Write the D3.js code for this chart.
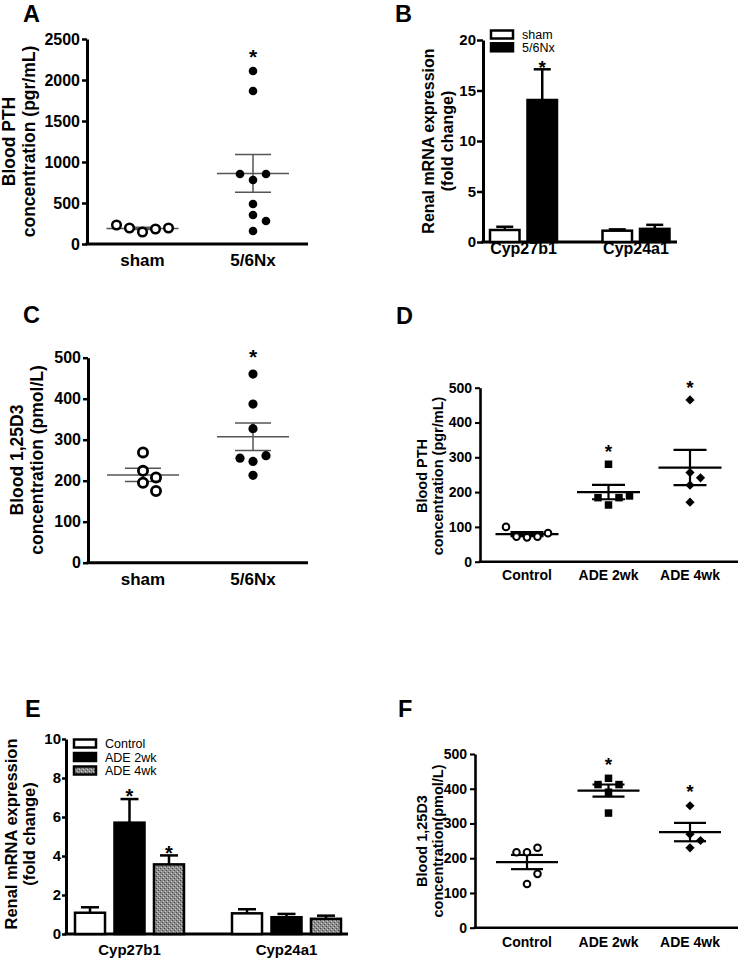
<!DOCTYPE html>
<meta charset="utf-8">
<script src="https://d3js.org/d3.v7.min.js"></script>
<style>
  body { margin: 0; background: #fff; }
  text { font-family: Arial, "Liberation Sans", sans-serif; fill: #000; }
</style>
<div id="figure"></div>
<script>

// ---------- data ----------

// A: blood PTH (pgr/mL), sham vs 5/6 nephrectomy
const nxGroups = ["sham", "5/6Nx"];
const pthSham = [146, 183, 195, 195, 232];
const pthNx = [2110, 1866, 780, 854, 854, 488, 354, 281, 159];
const pthNxTicks = [0, 500, 1000, 1500, 2000, 2500];
const pthNxStars = [false, true];

// B: renal mRNA expression (fold change), sham vs 5/6Nx
const genes = ["Cyp27b1", "Cyp24a1"];
const mrnaShamMean = [1.19, 1.12];
const mrnaShamSem = [0.32, 0.13];
const mrnaNxMean = [14.06, 1.3];
const mrnaNxSem = [3.04, 0.4];
const mrnaNxStars = [true, false];
const mrnaNxTicks = [0, 5, 10, 15, 20];

// C: blood 1,25D3 (pmol/L), sham vs 5/6Nx
const vdSham = [269, 224, 208, 195, 175];
const vdNx = [460, 387, 327, 247, 261, 255, 213];
const vdNxTicks = [0, 100, 200, 300, 400, 500];
const vdNxStars = [false, true];

// D: blood PTH (pgr/mL), adenine diet
const adeGroups = ["Control", "ADE 2wk", "ADE 4wk"];
const pthControl = [70, 72, 72, 82, 100];
const pthAde2 = [163, 184, 184, 189, 280];
const pthAde4 = [465, 256, 241, 220, 171];
const pthAdeTicks = [0, 100, 200, 300, 400, 500];
const pthAdeStars = [false, true, true];

// E: renal mRNA expression (fold change), adenine diet
const mrnaControlMean = [1.09, 1.06];
const mrnaControlSem = [0.28, 0.21];
const mrnaAde2Mean = [5.71, 0.86];
const mrnaAde2Sem = [1.21, 0.17];
const mrnaAde4Mean = [3.57, 0.78];
const mrnaAde4Sem = [0.46, 0.16];
const mrnaAde2Stars = [true, false];
const mrnaAde4Stars = [true, false];
const mrnaAdeTicks = [0, 2, 4, 6, 8, 10];

// F: blood 1,25D3 (pmol/L), adenine diet
const vdControl = [217, 230, 217, 126, 155];
const vdAde2 = [430, 412, 412, 390, 330];
const vdAde4 = [351, 269, 251, 230];
const vdAdeTicks = [0, 100, 200, 300, 400, 500];
const vdAdeStars = [false, true, true];

// ---------- drawing ----------

const svg = d3.select("#figure")
  .append("svg")
  .attr("width", 739)
  .attr("height", 960);

svg.append("rect").attr("width", 739).attr("height", 960).attr("fill", "#fff");

// speckled grey fill used for the ADE 4wk bars
const pat = svg.append("defs").append("pattern")
  .attr("id", "speckle")
  .attr("patternUnits", "userSpaceOnUse")
  .attr("width", 4).attr("height", 4);
pat.append("rect").attr("width", 4).attr("height", 4).attr("fill", "#8e8e8e");
pat.append("rect").attr("x", 0).attr("y", 0).attr("width", 1).attr("height", 1).attr("fill", "#4a4a4a");
pat.append("rect").attr("x", 2).attr("y", 2).attr("width", 1).attr("height", 1).attr("fill", "#4a4a4a");
pat.append("rect").attr("x", 1).attr("y", 3).attr("width", 1).attr("height", 1).attr("fill", "#c8c8c8");
pat.append("rect").attr("x", 3).attr("y", 1).attr("width", 1).attr("height", 1).attr("fill", "#c8c8c8");

function panelLetter(t, x, y) {
  svg.append("text")
    .attr("x", x).attr("y", y)
    .attr("font-size", 23.5).attr("font-weight", "bold")
    .text(t);
}

function yTitle(lines, xs, cy, size) {
  lines.forEach((t, i) => {
    svg.append("text")
      .attr("transform", `translate(${xs[i]},${cy}) rotate(-90)`)
      .attr("text-anchor", "middle")
      .attr("font-size", size)
      .attr("font-weight", "bold")
      .text(t);
  });
}

function drawAxes(p, y) {
  const ax = svg.append("g")
    .attr("transform", `translate(${p.left},0)`)
    .call(d3.axisLeft(y)
      .tickValues(p.ticks)
      .tickFormat(d3.format("d"))
      .tickSize(p.tickLen)
      .tickSizeOuter(0)
      .tickPadding(p.tickPad));
  ax.attr("font-family", null).attr("font-size", null);
  ax.select(".domain").attr("stroke", "#000").attr("stroke-width", p.axisW);
  ax.selectAll(".tick line").attr("stroke", "#000").attr("stroke-width", p.axisW - 0.5);
  ax.selectAll(".tick text")
    .attr("font-size", p.tickFont)
    .attr("font-weight", "bold")
    .attr("fill", "#000");

  svg.append("line")
    .attr("x1", p.left - p.axisW / 2).attr("x2", p.right)
    .attr("y1", y(0)).attr("y2", y(0))
    .attr("stroke", "#000").attr("stroke-width", p.axisW);
}

// greedy horizontal dodge so that points with close values sit side by side
function dodge(values, y, step, minDy) {
  const placed = [];
  return values.map(v => {
    const py = y(v);
    let off = 0;
    for (let i = 0; i < 60; i++) {
      off = i === 0 ? 0 : (i % 2 ? 1 : -1) * Math.ceil(i / 2) * step / 2;
      const hit = placed.some(q => Math.abs(q.off - off) < step - 0.01 && Math.abs(q.y - py) < minDy);
      if (!hit) break;
    }
    placed.push({ off: off, y: py });
    return off;
  });
}

function drawMarker(shape, cx, cy, m) {
  if (shape === "open") {
    svg.append("circle").attr("cx", cx).attr("cy", cy).attr("r", m.r)
      .attr("fill", "#fff").attr("stroke", "#000").attr("stroke-width", m.sw);
  } else if (shape === "dot") {
    svg.append("circle").attr("cx", cx).attr("cy", cy).attr("r", m.r).attr("fill", "#000");
  } else if (shape === "square") {
    svg.append("path")
      .attr("d", d3.symbol().type(d3.symbolSquare).size(m.sq * m.sq)())
      .attr("transform", `translate(${cx},${cy})`)
      .attr("fill", "#000");
  } else if (shape === "diamond") {
    svg.append("path")
      .attr("d", d3.symbol().type(d3.symbolSquare).size(m.dm * m.dm)())
      .attr("transform", `translate(${cx},${cy}) rotate(45)`)
      .attr("fill", "#000");
  }
}

function star(cx, cy, size) {
  svg.append("text")
    .attr("x", cx).attr("y", cy + 0.56 * size)
    .attr("text-anchor", "middle")
    .attr("font-size", size).attr("font-weight", "bold")
    .text("*");
}

function dotPanel(p) {
  const y = d3.scaleLinear().domain([0, d3.max(p.ticks)]).range([p.bottom, p.top]);
  const x = d3.scalePoint().domain(p.groups).range(p.centers);
  drawAxes(p, y);

  p.groups.forEach((gname, i) => {
    const vals = p.series[i];
    const cx = x(gname);
    const offs = dodge(vals, y, p.step, p.minDy);

    const mean = d3.mean(vals);
    const sem = d3.deviation(vals) / Math.sqrt(vals.length);

    const ln = (x1, x2, y1, y2) => svg.append("line")
      .attr("x1", x1).attr("x2", x2).attr("y1", y1).attr("y2", y2)
      .attr("stroke", p.lineColor).attr("stroke-width", p.lineW);
    ln(cx - p.meanW / 2, cx + p.meanW / 2, y(mean), y(mean));
    ln(cx - p.capW / 2, cx + p.capW / 2, y(mean + sem), y(mean + sem));
    ln(cx - p.capW / 2, cx + p.capW / 2, y(mean - sem), y(mean - sem));
    ln(cx, cx, y(mean + sem), y(mean - sem));

    vals.forEach((v, j) => drawMarker(p.shapes[i], cx + offs[j], y(v), p.marker));

    if (p.stars[i]) star(cx, y(d3.max(vals)) - p.starGap, p.starFont);

    svg.append("text")
      .attr("x", cx).attr("y", p.labelY)
      .attr("text-anchor", "middle")
      .attr("font-size", p.labelFont).attr("font-weight", "bold")
      .text(gname);
  });
}

function barPanel(p) {
  const y = d3.scaleLinear().domain([0, d3.max(p.ticks)]).range([p.bottom, p.top]);
  const x0 = d3.scalePoint().domain(genes).range(p.centers);
  const x1 = d3.scaleBand()
    .domain(p.series.map(s => s.name))
    .range([-p.groupW / 2, p.groupW / 2])
    .paddingInner(p.gap);
  drawAxes(p, y);

  p.series.forEach(s => {
    genes.forEach((gname, i) => {
      const cx = x0(gname) + x1(s.name) + x1.bandwidth() / 2;
      const top = y(s.mean[i] + s.sem[i]);
      svg.append("line")
        .attr("x1", cx).attr("x2", cx).attr("y1", y(s.mean[i])).attr("y2", top)
        .attr("stroke", "#000").attr("stroke-width", 2.5);
      svg.append("line")
        .attr("x1", cx - p.capW / 2).attr("x2", cx + p.capW / 2).attr("y1", top).attr("y2", top)
        .attr("stroke", "#000").attr("stroke-width", 2.5);
      svg.append("rect")
        .attr("x", cx - x1.bandwidth() / 2)
        .attr("y", y(s.mean[i]))
        .attr("width", x1.bandwidth())
        .attr("height", y(0) - y(s.mean[i]))
        .attr("fill", s.fill)
        .attr("stroke", "#000").attr("stroke-width", 2.5);
      if (s.stars && s.stars[i]) star(cx, top - p.starGap, p.starFont);
    });
  });

  genes.forEach(gname => {
    svg.append("text")
      .attr("x", x0(gname)).attr("y", p.labelY)
      .attr("text-anchor", "middle")
      .attr("font-size", p.labelFont).attr("font-weight", "bold")
      .text(gname);
  });

  // legend
  p.series.forEach((s, i) => {
    const ly = p.legend.y + i * p.legend.dy;
    svg.append("rect")
      .attr("x", p.legend.x).attr("y", ly)
      .attr("width", 22).attr("height", 8)
      .attr("fill", s.fill).attr("stroke", "#000").attr("stroke-width", 2.5);
    svg.append("text")
      .attr("x", p.legend.x + 31).attr("y", ly + 8.5)
      .attr("font-size", p.legend.font)
      .text(s.name);
  });
}

// ---- A ----
panelLetter("A", 23, 22);
yTitle(["Blood PTH", "concentration (pgr/mL)"], [15, 35], 141.5, 17.5);
dotPanel({
  groups: nxGroups, series: [pthSham, pthNx], shapes: ["open", "dot"], stars: pthNxStars,
  ticks: pthNxTicks, left: 87, right: 308, bottom: 244, top: 39, centers: [142.5, 253],
  tickLen: 5, tickPad: 2, tickFont: 16, axisW: 3,
  labelY: 265.5, labelFont: 17,
  step: 13, minDy: 9, meanW: 72, capW: 36, lineColor: "#555", lineW: 1.5,
  marker: { r: 4.3, sw: 2.5 }, starGap: 19, starFont: 21
});

// ---- B ----
panelLetter("B", 395, 22);
yTitle(["Renal mRNA expression", "(fold change)"], [434, 453], 141, 16);
barPanel({
  series: [
    { name: "sham", mean: mrnaShamMean, sem: mrnaShamSem, fill: "#fff" },
    { name: "5/6Nx", mean: mrnaNxMean, sem: mrnaNxSem, fill: "#000", stars: mrnaNxStars }
  ],
  ticks: mrnaNxTicks, left: 483, right: 677, bottom: 242, top: 40, centers: [523.5, 636],
  tickLen: 6, tickPad: 1, tickFont: 15, axisW: 3,
  groupW: 67, gap: 0.213, capW: 17,
  labelY: 253.5, labelFont: 16,
  starGap: 6, starFont: 19,
  legend: { x: 491, y: 30.5, dy: 12.8, font: 12.5 }
});

// ---- C ----
panelLetter("C", 23, 323);
yTitle(["Blood 1,25D3", "concentration (pmol/L)"], [23, 43], 460, 17.5);
dotPanel({
  groups: nxGroups, series: [vdSham, vdNx], shapes: ["open", "dot"], stars: vdNxStars,
  ticks: vdNxTicks, left: 88, right: 308, bottom: 562.7, top: 357.7, centers: [143, 253],
  tickLen: 5, tickPad: 2, tickFont: 16, axisW: 3,
  labelY: 585, labelFont: 17,
  step: 13, minDy: 9, meanW: 72, capW: 36, lineColor: "#555", lineW: 1.5,
  marker: { r: 4.6, sw: 2.8 }, starGap: 22, starFont: 21
});

// ---- D ----
panelLetter("D", 396, 324);
yTitle(["Blood PTH", "concentration (pgr/mL)"], [427, 443], 476, 14.5);
dotPanel({
  groups: adeGroups, series: [pthControl, pthAde2, pthAde4], shapes: ["open", "square", "diamond"],
  stars: pthAdeStars,
  ticks: pthAdeTicks, left: 480, right: 738, bottom: 561.7, top: 387.7, centers: [527, 690],
  tickLen: 5, tickPad: 3, tickFont: 14, axisW: 2.6,
  labelY: 580, labelFont: 14,
  step: 10.5, minDy: 11, meanW: 63, capW: 33, lineColor: "#000", lineW: 2.2,
  marker: { r: 3.3, sw: 2, sq: 7.5, dm: 6.5 }, starGap: 17, starFont: 19
});

// ---- E ----
panelLetter("E", 25, 717);
yTitle(["Renal mRNA expression", "(fold change)"], [17, 35], 834, 16.5);
barPanel({
  series: [
    { name: "Control", mean: mrnaControlMean, sem: mrnaControlSem, fill: "#fff" },
    { name: "ADE 2wk", mean: mrnaAde2Mean, sem: mrnaAde2Sem, fill: "#000", stars: mrnaAde2Stars },
    { name: "ADE 4wk", mean: mrnaAde4Mean, sem: mrnaAde4Sem, fill: "url(#speckle)", stars: mrnaAde4Stars }
  ],
  ticks: mrnaAdeTicks, left: 66, right: 348, bottom: 934, top: 739, centers: [129.5, 286.5],
  tickLen: 4, tickPad: 1, tickFont: 15, axisW: 3,
  groupW: 109, gap: 0.24, capW: 18,
  labelY: 955, labelFont: 15,
  starGap: 7, starFont: 20,
  legend: { x: 74, y: 739.5, dy: 13.5, font: 12.5 }
});

// ---- F ----
panelLetter("F", 398, 717);
yTitle(["Blood 1,25D3", "concentration(pmol/L)"], [427, 443], 841, 14.5);
dotPanel({
  groups: adeGroups, series: [vdControl, vdAde2, vdAde4], shapes: ["open", "square", "diamond"],
  stars: vdAdeStars,
  ticks: vdAdeTicks, left: 475, right: 738, bottom: 927.7, top: 754, centers: [527, 690],
  tickLen: 5, tickPad: 3, tickFont: 14, axisW: 2.6,
  labelY: 946.5, labelFont: 14,
  step: 10.5, minDy: 11, meanW: 62, capW: 32, lineColor: "#000", lineW: 2.2,
  marker: { r: 3.3, sw: 2, sq: 7.5, dm: 6.5 }, starGap: 18, starFont: 19
});

</script>
